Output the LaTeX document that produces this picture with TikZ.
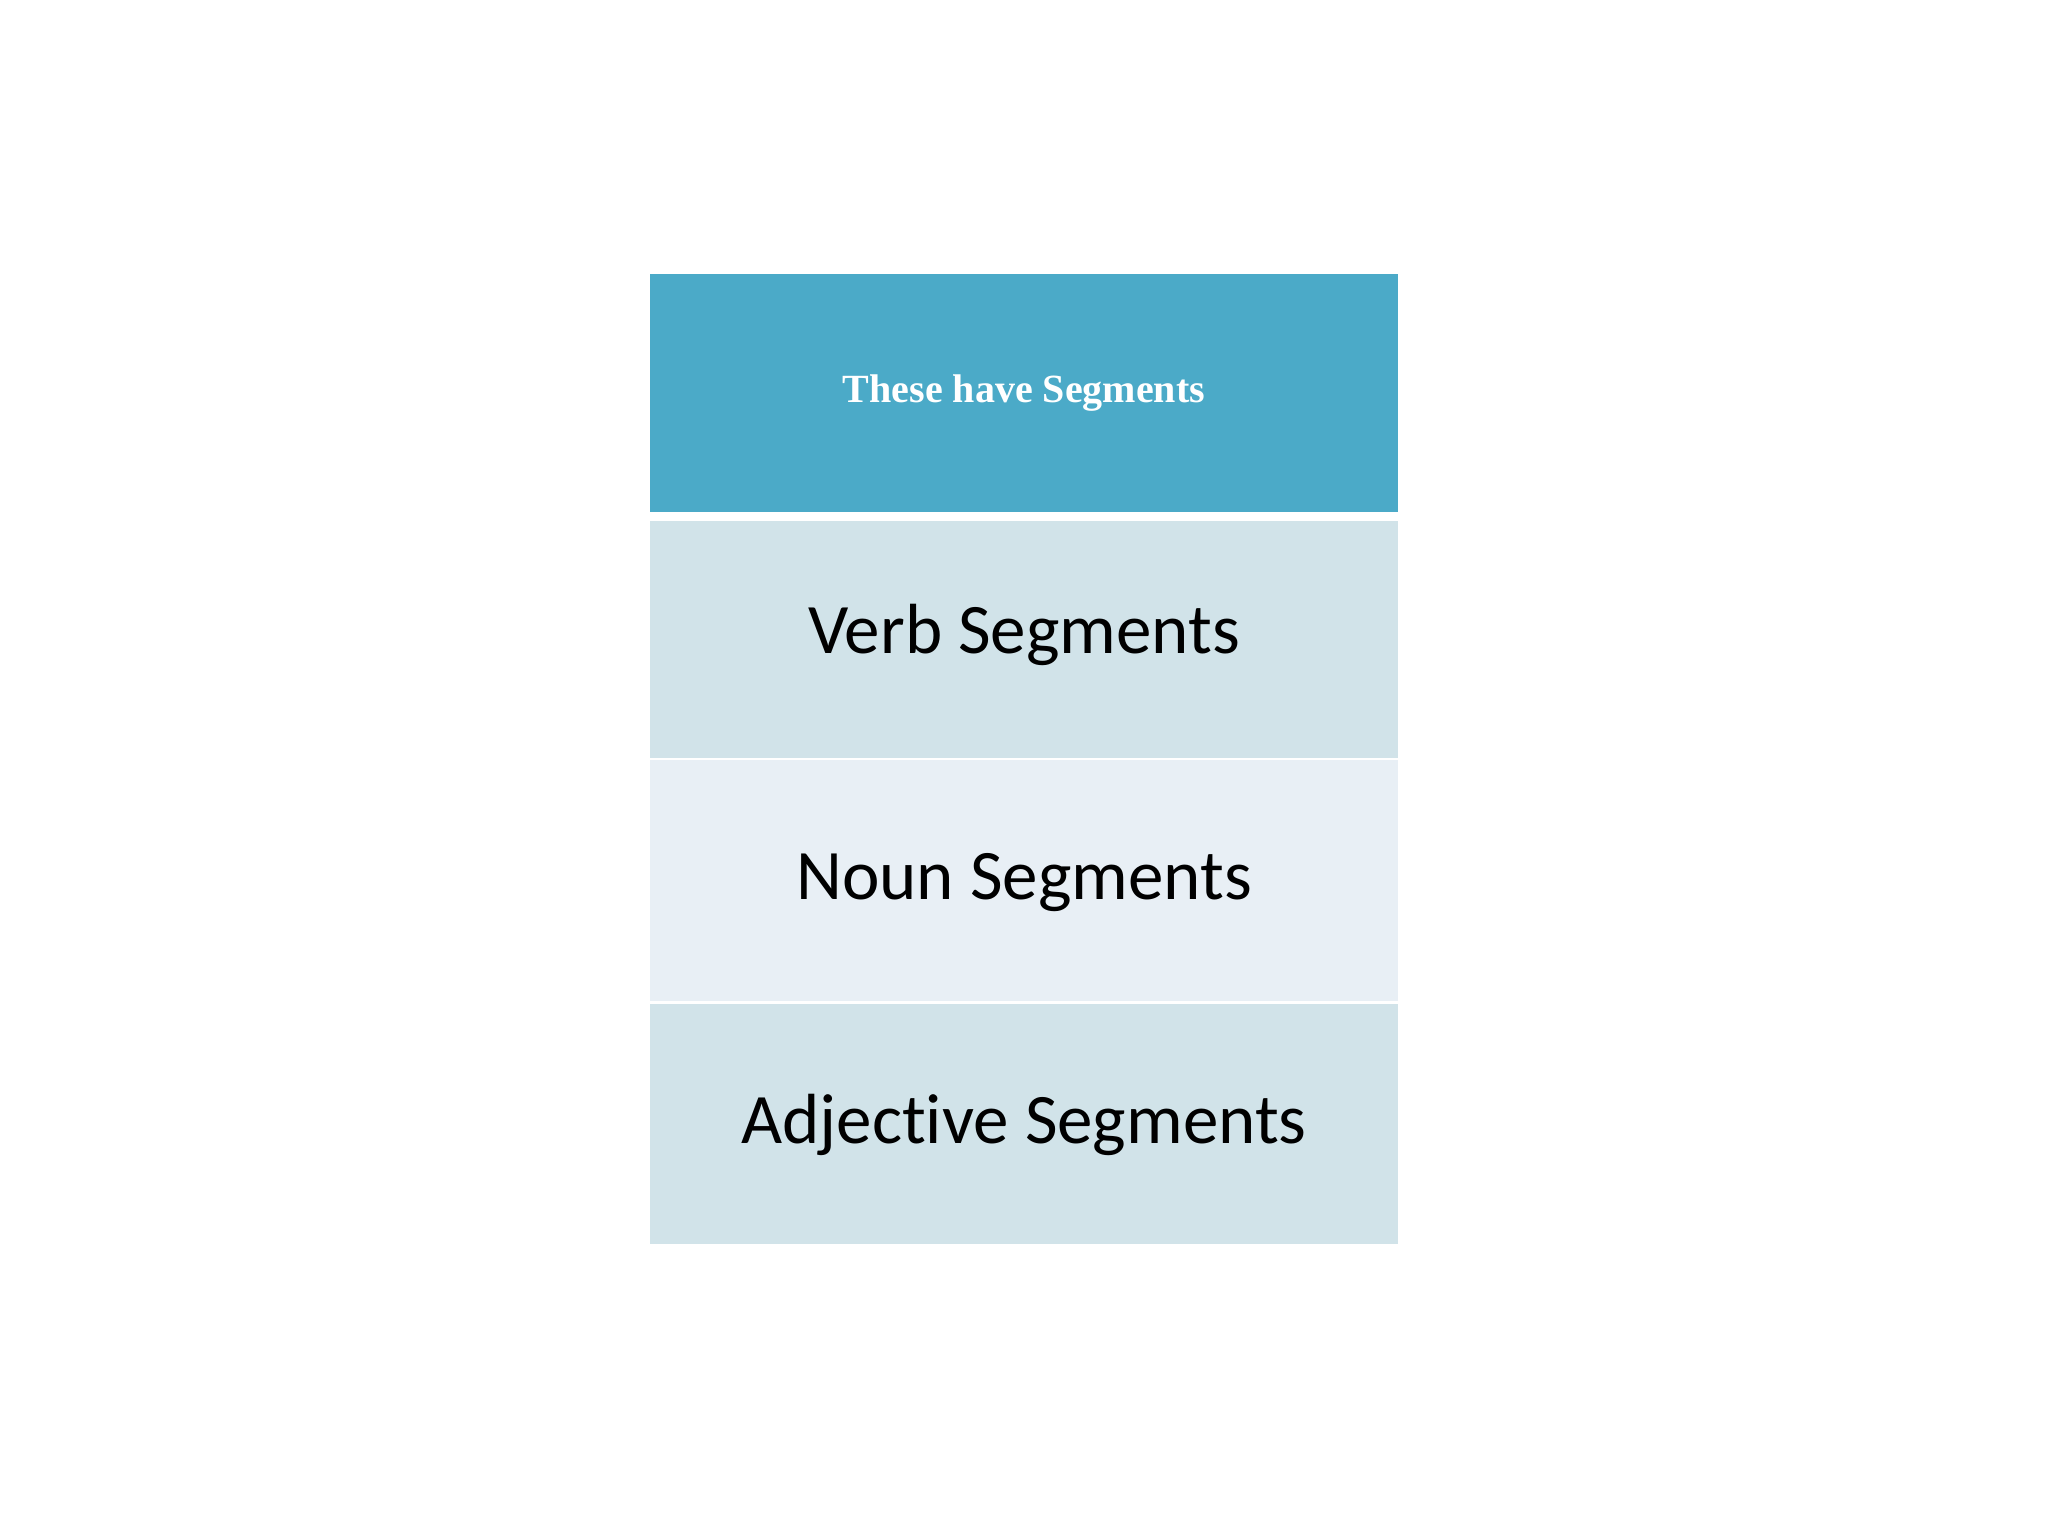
\documentclass[tikz,border=0pt]{standalone}
\usepackage{fontspec}
\setmainfont{Carlito}[Ligatures=NoCommon]
\newfontfamily\hdrfont{Liberation Serif}
\definecolor{hdrblue}{HTML}{4BAAC8}
\definecolor{rowa}{HTML}{D1E3E9}
\definecolor{rowb}{HTML}{E8EFF5}
\tikzset{
  cell/.style={rectangle, inner sep=0pt, outer sep=0pt, draw=none, minimum width=748pt},
  bigtxt/.style={anchor=base, inner sep=0pt, text=black, font=\fontsize{71}{84}\selectfont},
  hdrtxt/.style={anchor=base, inner sep=0pt, text=white, font=\hdrfont\bfseries\fontsize{40}{48}\selectfont}
}
\begin{document}
\begin{tikzpicture}[x=1pt,y=-1pt]
\useasboundingbox[fill=white] (0,0) rectangle (2048,1536);
\node[cell, fill=hdrblue, minimum height=238pt] (hdr) at (1024,393) {};
\node[cell, fill=rowa, minimum height=237pt] (r1) at (1024,639) {};
\node[cell, fill=rowb, minimum height=241pt] (r2) at (1024,880.5) {};
\node[cell, fill=rowa, minimum height=240pt] (r3) at (1024,1124) {};
\node[hdrtxt] (th) at (1024,402) {These have Segments};
\node[bigtxt] (t1) at (1024,653) {Verb Segments};
\node[bigtxt] (t2) at (1024,899) {Noun Segments};
\node[bigtxt] (t3) at (1024,1143) {Adjective Segments};
\end{tikzpicture}
\end{document}
